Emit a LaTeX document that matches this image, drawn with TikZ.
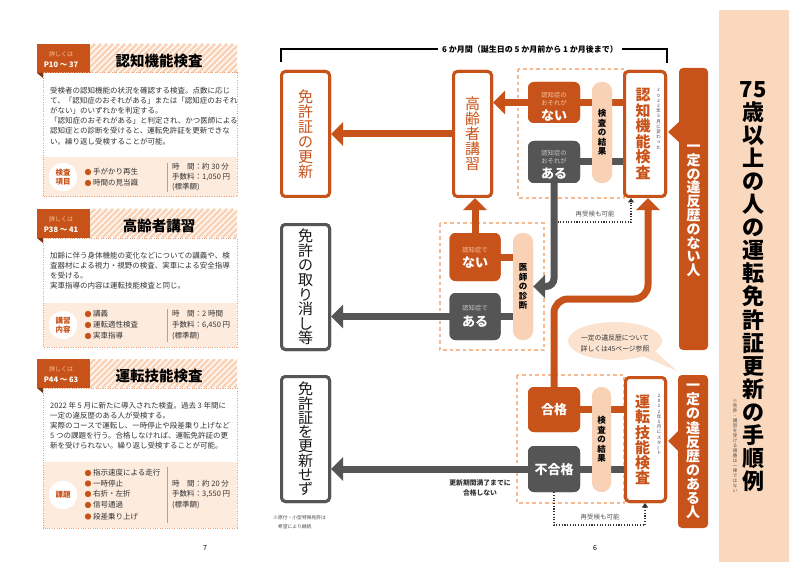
\documentclass[tikz,border=0pt]{standalone}
\usepackage{fontspec}
\usepackage{graphicx}
\setmainfont{Noto Sans CJK JP}
\usetikzlibrary{arrows.meta}
\definecolor{orng}{HTML}{C8531A}
\definecolor{dgray}{HTML}{555555}
\definecolor{pill}{HTML}{F9D2B5}
\definecolor{tpeach}{HTML}{FAD8BD}
\definecolor{dashc}{HTML}{F5BA92}
\definecolor{lfill}{HTML}{FDEBDD}
\definecolor{stripec}{HTML}{FAD3B7}
\definecolor{dotc}{HTML}{EFA27A}
\definecolor{lpeach}{HTML}{F6C4A0}
\definecolor{lgrayt}{HTML}{C8C8C8}
\definecolor{bubble}{HTML}{FCE3D0}
\definecolor{foldc}{HTML}{7A3410}
\definecolor{txt}{HTML}{333333}
\newcommand\VF[2]{\fontsize{#1}{#2}\selectfont}
\newcommand\PanelHead[4]{%
  \begin{scope}
    \clip (90,#1) rectangle (237,#1+29);
    \foreach \k in {0,6,...,186} \draw[stripec, line width=2.6pt] (60+\k,#1+29) -- (89+\k,#1);
  \end{scope}
  \fill[orng] (37,#1) rectangle (90,#1+29);
  \fill[foldc] (37,#1+29) -- (43,#1+29) -- (43,#1+34) -- cycle;
  \node[font=\VF{6}{6}, text=lpeach, inner sep=0pt] (#2a) at (61,#1+10.5) {詳しくは};
  \node[font=\bfseries\VF{7.5}{7.5}, text=white, inner sep=0pt] (#2b) at (61,#1+21) {#3};
  \node[font=\bfseries\VF{14.5}{14.5}, inner sep=0pt] (#2t) at (159,#1+17) {#4};
}
\begin{document}
\begin{tikzpicture}[x=1pt,y=-1pt,
  obox/.style={draw=orng, line width=3pt, rounded corners=4pt, fill=white, inner sep=0pt, align=center},
  gbox/.style={draw=dgray, line width=3pt, rounded corners=4pt, fill=white, inner sep=0pt, align=center, text=black!90},
  ofill/.style={fill=orng, rounded corners=6pt, inner sep=0pt},
  gfill/.style={fill=dgray, rounded corners=6pt, inner sep=0pt},
  pillbox/.style={fill=pill, rounded corners=9.5pt, inner sep=0pt, align=center, font=\bfseries\VF{8.5}{9.5}},
  obar/.style={draw=orng, line width=7pt},
  gbar/.style={draw=dgray, line width=7pt},
  bigtip/.style={-{Triangle[length=12pt,width=23pt]}},
  dashreg/.style={draw=dashc, line width=1.3pt, dash pattern=on 3.5pt off 3pt},
  dotarrow/.style={draw=black!80, line width=1.1pt, dash pattern=on 1.1pt off 1.6pt, -{Triangle[length=4.5pt,width=6pt]}},
  sm/.style={font=\VF{6.3}{8}, align=center, inner sep=0pt},
  bigw/.style={font=\bfseries\VF{13}{13}, text=white, inner sep=0pt},
  vlabel/.style={align=center, inner sep=0pt, font=\VF{15}{15}},
  vnote/.style={align=center, inner sep=0pt, font=\VF{4.5}{5.2}, text=black!75},
  lpbody/.style={anchor=north west, inner sep=0pt, align=left, font=\VF{7.5}{10.2}, text=txt},
  lpitem/.style={anchor=west, inner sep=0pt, font=\VF{7.5}{7.5}, text=txt},
  lpcirc/.style={circle, fill=white, minimum size=28.5pt, inner sep=0pt, text=orng, font=\bfseries\VF{7.5}{9}, align=center},
  divl/.style={draw=black!35, line width=0.6pt},
  dotb/.style={draw=dotc, line width=1pt, dash pattern=on 1pt off 1.4pt},
  smallt/.style={inner sep=0pt, font=\VF{6.5}{6.5}, text=black!65}
]
\useasboundingbox (0,0) rectangle (800,572);
\fill[white] (0,0) rectangle (800,572);

% ---------- left panels ----------
\PanelHead{44}{pa}{P10 〜 37}{認知機能検査}
\fill[lfill] (43,157) rectangle (237,197);
\draw[dotb] (43,73) rectangle (237,197);
\node[lpbody] (pabody) at (50,86.6) {受検者の認知機能の状況を確認する検査。点数に応じ\\て、「認知症のおそれがある」または「認知症のおそれ\\がない」のいずれかを判定する。\\「認知症のおそれがある」と判定され、かつ医師による\\認知症との診断を受けると、運転免許証を更新できな\\い。繰り返し受検することが可能。};
\node[lpcirc] (pacirc) at (63,177) {検査\\項目};
\fill[orng] (88,172) circle (3.2); \node[lpitem] (pai1) at (93,172) {手がかり再生};
\fill[orng] (88,183) circle (3.2); \node[lpitem] (pai2) at (93,183) {時間の見当識};
\draw[divl] (167,163) -- (167,192);
\node[lpitem] (paf1) at (172,167) {時　間：約 30 分};
\node[lpitem] (paf2) at (172,177) {手数料：1,050 円};
\node[lpitem] (paf3) at (172,187) {(標準額)};

\PanelHead{209}{pb}{P38 〜 41}{高齢者講習}
\fill[lfill] (43,303) rectangle (237,347);
\draw[dotb] (43,238) rectangle (237,347);
\node[lpbody] (pbbody) at (50,251.6) {加齢に伴う身体機能の変化などについての講義や、検\\査器材による視力・視野の検査、実車による安全指導\\を受ける。\\実車指導の内容は運転技能検査と同じ。};
\node[lpcirc] (pbcirc) at (63,325) {講習\\内容};
\fill[orng] (88,314) circle (3.2); \node[lpitem] (pbi1) at (93,314) {講義};
\fill[orng] (88,325) circle (3.2); \node[lpitem] (pbi2) at (93,325) {運転適性検査};
\fill[orng] (88,336) circle (3.2); \node[lpitem] (pbi3) at (93,336) {実車指導};
\draw[divl] (167,309) -- (167,342);
\node[lpitem] (pbf1) at (172,314) {時　間：2 時間};
\node[lpitem] (pbf2) at (172,325) {手数料：6,450 円};
\node[lpitem] (pbf3) at (172,336) {(標準額)};

\PanelHead{359}{pc}{P44 〜 63}{運転技能検査}
\fill[lfill] (43,462) rectangle (237,528);
\draw[dotb] (43,388) rectangle (237,528);
\node[lpbody] (pcbody) at (50,401.6) {2022 年 5 月に新たに導入された検査。過去 3 年間に\\一定の違反歴のある人が受検する。\\実際のコースで運転し、一時停止や段差乗り上げなど\\5 つの課題を行う。合格しなければ、運転免許証の更\\新を受けられない。繰り返し受検することが可能。};
\node[lpcirc] (pccirc) at (63,495) {課題};
\fill[orng] (88,473) circle (3.2); \node[lpitem] (pci1) at (93,473) {指示速度による走行};
\fill[orng] (88,483.5) circle (3.2); \node[lpitem] (pci2) at (93,483.5) {一時停止};
\fill[orng] (88,494) circle (3.2); \node[lpitem] (pci3) at (93,494) {右折・左折};
\fill[orng] (88,505) circle (3.2); \node[lpitem] (pci4) at (93,505) {信号通過};
\fill[orng] (88,516.5) circle (3.2); \node[lpitem] (pci5) at (93,516.5) {段差乗り上げ};
\draw[divl] (167,467) -- (167,523);
\node[lpitem] (pcf1) at (172,483.5) {時　間：約 20 分};
\node[lpitem] (pcf2) at (172,494) {手数料：3,550 円};
\node[lpitem] (pcf3) at (172,505) {(標準額)};

\node[inner sep=0pt, font=\VF{7}{7}] (pg7) at (205,548) {7};
\node[inner sep=0pt, font=\VF{7}{7}] (pg6) at (595,548) {6};

% ---------- title panel ----------
\fill[tpeach] (719,10) rectangle (789,562);
\node[align=center, inner sep=0pt, font=\bfseries\VF{22}{23.1}] (title) at (753,286.5) {75\\歳\\以\\上\\の\\人\\の\\運\\転\\免\\許\\証\\更\\新\\の\\手\\順\\例};
\node[align=center, inner sep=0pt, font=\VF{4.5}{5}, text=black!70] (tnote) at (735,445.5) {※\\免\\許\\・\\講\\習\\を\\受\\け\\る\\順\\番\\は\\一\\律\\で\\は\\な\\い};

% ---------- bracket ----------
\node[inner sep=4pt, font=\bfseries\VF{8}{8}] (brk) at (530,49) {6 か月間（誕生日の 5 か月前から 1 か月後まで）};
\coordinate (bl) at (281,62);
\coordinate (br) at (667,63);
\draw[line width=1.2pt] (bl) |- (brk.west);
\draw[line width=1.2pt] (brk.east) -| (br);

% ---------- dashed regions ----------
\draw[dashreg] (518,69) rectangle (624,198);
\draw[dashreg] (440,223) rectangle (544,350);
\draw[dashreg] (517,375) rectangle (624,503);

% ---------- speech bubble ----------
\fill[bubble] (615,341) ellipse [x radius=47, y radius=19];
\fill[bubble] (638,354) -- (677,371) -- (655,351) -- cycle;
\node[align=center, inner sep=0pt, font=\VF{6.8}{11}, text=txt] (bub) at (615,343.5) {一定の違反歴について\\詳しくは45ページ参照};

% ---------- anchor nodes for connectors ----------
\node[obox, minimum width=48, minimum height=125] (renew) at (305.5,134) {};
\node[obox, minimum width=38, minimum height=125] (koshu) at (472.5,134) {};
\node[obox, minimum width=41, minimum height=125] (ninchi) at (645,134) {};
\node[ofill, minimum width=52, minimum height=41] (nai1) at (554,102.5) {};
\node[gfill, minimum width=52, minimum height=42] (aru1) at (554,162) {};
\node[gbox, minimum width=48, minimum height=125] (torikeshi) at (305.5,287) {};
\node[ofill, minimum width=51, minimum height=48] (nai2) at (475,257) {};
\node[gfill, minimum width=51, minimum height=47] (aru2) at (475,316.5) {};
\node[gbox, minimum width=48, minimum height=125] (sezu) at (305.5,439) {};
\node[ofill, minimum width=52, minimum height=45] (gokaku) at (554,409.5) {};
\node[gfill, minimum width=52, minimum height=46] (fugokaku) at (554,469) {};
\node[obox, minimum width=40, minimum height=124] (ginou) at (645.5,439.5) {};
\node[pillbox, minimum width=20, minimum height=101] (kekka1) at (602,132.5) {};
\node[pillbox, minimum width=20, minimum height=107] (shindan) at (523,286.5) {};
\node[pillbox, minimum width=19, minimum height=105] (kekka2) at (601.5,439.5) {};

% ---------- connectors ----------
\coordinate (turn1) at (554,299);
\coordinate (turn2) at (648,299);
\coordinate (rs1) at (557.5,222);
\coordinate (rs1e) at (631,222);
\coordinate (rs2) at (553,525);
\coordinate (rs2e) at (645,525);
\draw[obar, bigtip] (ninchi.west |- nai1.center) -- (koshu.east |- nai1.center);
\draw[gbar] (ninchi.west |- aru1.center) -- (aru1.center);
\draw[gbar, rounded corners=8pt, bigtip] (aru1.center) -- (aru1.center |- shindan.center) -- (shindan.east);
\draw[obar, bigtip] (koshu.west) -- (renew.east);
\draw[obar] (nai2.center) -- (nai2.center -| shindan.center);
\draw[gbar] (aru2.center) -- (aru2.center -| shindan.center);
\draw[obar, bigtip] (nai2.center) -- (nai2.center |- koshu.south);
\draw[gbar, bigtip] (aru2.center) -- (aru2.center -| torikeshi.east);
\draw[obar] (gokaku.center) -- (gokaku.center -| ginou.west);
\draw[gbar, bigtip] (ginou.west |- fugokaku.center) -- (fugokaku.center -| sezu.east);
\draw[obar, rounded corners=14pt, bigtip] (gokaku.center) -- (turn1) -- (turn2) -- (turn2 |- ninchi.south);
\draw[dotarrow] (rs1) -- (rs1e) -- (rs1e |- ninchi.south);
\draw[dotarrow] (fugokaku.south) -- (fugokaku.south |- rs2) -- (rs2e) -- (rs2e |- ginou.south);

% ---------- boxes with labels, on top of connectors ----------
\node[obox, minimum width=48, minimum height=125, text=orng, font=\VF{15}{15}] (renewT) at (305.5,134) {免\\許\\証\\の\\更\\新};
\node[obox, minimum width=38, minimum height=125, text=orng, font=\VF{15}{15}] (koshuT) at (472.5,134) {高\\齢\\者\\講\\習};
\node[obox, minimum width=41, minimum height=125] (ninchiB) at (645,134) {};
\node[vlabel, text=orng, font=\bfseries\VF{15}{15.6}] (ninchiT) at (643,134) {認\\知\\機\\能\\検\\査};
\node[vnote] (ninchiN) at (658.5,119) {2\\0\\2\\2\\年\\5\\月\\に\\変\\わ\\っ\\た};
\node[ofill, minimum width=52, minimum height=41] (nai1B) at (554,102.5) {};
\node[sm, text=lpeach] (nai1s) at (554,99) {認知症の\\おそれが};
\node[bigw] (nai1b) at (554,115.5) {ない};
\node[gfill, minimum width=52, minimum height=42] (aru1B) at (554,162) {};
\node[sm, text=lgrayt] (aru1s) at (554,157.5) {認知症の\\おそれが};
\node[bigw] (aru1b) at (554,174) {ある};
\node[pillbox, minimum width=20, minimum height=101] (kekka1T) at (602,132.5) {検\\査\\の\\結\\果};

\node[gbox, minimum width=48, minimum height=125, font=\VF{15}{14.6}] (torikeshiT) at (305.5,287) {免\\許\\の\\取\\り\\消\\し\\等};
\node[ofill, minimum width=51, minimum height=48] (nai2B) at (475,257) {};
\node[sm, text=lpeach] (nai2s) at (475,250) {認知症で};
\node[bigw] (nai2b) at (475,263) {ない};
\node[gfill, minimum width=51, minimum height=47] (aru2B) at (475,316.5) {};
\node[sm, text=lgrayt] (aru2s) at (475,308) {認知症で};
\node[bigw] (aru2b) at (475,322) {ある};
\node[pillbox, minimum width=20, minimum height=107] (shindanT) at (523,286.5) {医\\師\\の\\診\\断};

\node[gbox, minimum width=48, minimum height=125, font=\VF{15}{14.3}] (sezuT) at (305.5,439) {免\\許\\証\\を\\更\\新\\せ\\ず};
\node[ofill, minimum width=52, minimum height=45] (gokakuB) at (554,409.5) {};
\node[bigw] (gokakuT) at (554,410) {合格};
\node[gfill, minimum width=52, minimum height=46] (fugokakuB) at (554,469) {};
\node[bigw] (fugokakuT) at (554,470) {不合格};
\node[pillbox, minimum width=19, minimum height=105] (kekka2T) at (601.5,439.5) {検\\査\\の\\結\\果};
\node[obox, minimum width=40, minimum height=124] (ginouB) at (645.5,439.5) {};
\node[vlabel, text=orng, font=\bfseries\VF{15}{15.2}] (ginouT) at (642.5,440) {運\\転\\技\\能\\検\\査};
\node[vnote] (ginouN) at (659,424.5) {2\\0\\2\\2\\年\\5\\月\\に\\ス\\タ\\\rotatebox[origin=c]{90}{ー}\\ト};

% ---------- side labels ----------
\node[fill=orng, rounded corners=4pt, minimum width=29, minimum height=282, inner sep=0pt] (nashi) at (693.5,209) {};
\fill[orng] (680,121) -- (668,132) -- (680,143) -- cycle;
\node[align=center, inner sep=0pt, text=white, font=\bfseries\VF{14}{13.8}] (nashiT) at (693.5,211) {一\\定\\の\\違\\反\\歴\\の\\な\\い\\人};
\node[fill=orng, rounded corners=4pt, minimum width=30, minimum height=153, inner sep=0pt] (ari) at (693,451.5) {};
\fill[orng] (679,430) -- (668,441) -- (679,452) -- cycle;
\node[align=center, inner sep=0pt, text=white, font=\bfseries\VF{14}{14.1}] (ariT) at (693,451.5) {一\\定\\の\\違\\反\\歴\\の\\あ\\る\\人};

% ---------- small texts ----------
\node[smallt] (rsa) at (595,214) {再受検も可能};
\node[smallt] (rsb) at (600,517) {再受検も可能};
\node[align=center, inner sep=0pt, font=\bfseries\VF{6.8}{10}, text=txt] (mankyo) at (480,488) {更新期間満了までに\\合格しない};
\node[anchor=west, align=left, inner sep=0pt, font=\VF{4.8}{9}, text=black!70] (gentsuki) at (273,522.5) {※原付・小型特殊免許は\\　希望により継続};
\end{tikzpicture}
\end{document}
